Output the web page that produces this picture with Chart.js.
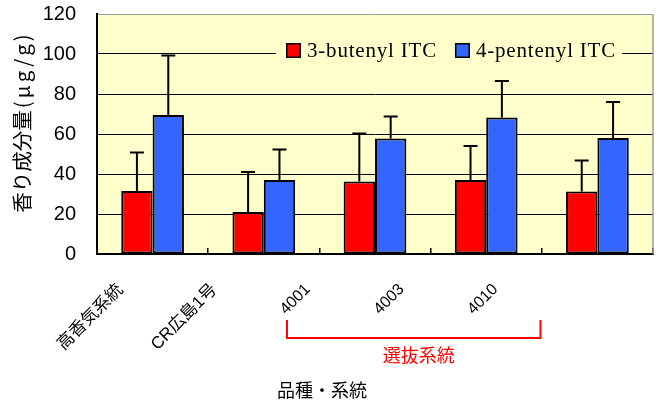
<!DOCTYPE html>
<html>
<head>
<meta charset="utf-8">
<script src="https://cdn.jsdelivr.net/npm/chart.js@4/dist/chart.umd.min.js"></script>
<style>
  html, body { margin: 0; padding: 0; background: #fff; }
  #wrap { width: 661px; height: 401px; }
</style>
</head>
<body>
<div id="wrap"><canvas id="c" width="661" height="401"></canvas></div>
<script>
// Cultivars / lines and measured aroma content (mean and SD, µg/g)
const categories = ['高香気系統', 'CR広島1号', '4001', '4003', '4010'];
const seriesNames = ['3-butenyl ITC', '4-pentenyl ITC'];
const butenylMean = [31.5, 21.0, 36.2, 37.0, 31.2];
const butenylSD   = [19.2, 20.0, 24.0, 17.0, 15.5];
const pentenylMean = [69.5, 37.0, 57.8, 68.3, 58.0];
const pentenylSD   = [29.7, 15.3, 10.9, 18.2, 18.0];
const yTicks = [0, 20, 40, 60, 80, 100, 120];

const SANS = '"Liberation Sans", "Noto Sans CJK JP", sans-serif';
const CJK = '"Noto Sans CJK JP", sans-serif';
const SERIF = '"Liberation Serif", serif';
const PLOT_BG = '#FFFFCC';

// Plot background and right frame line
const plotFrame = {
  id: 'plotFrame',
  beforeDraw(chart) {
    const { ctx, chartArea: a } = chart;
    ctx.save();
    ctx.fillStyle = '#fff';
    ctx.fillRect(0, 0, chart.width, chart.height);
    ctx.fillStyle = PLOT_BG;
    ctx.fillRect(a.left, a.top, a.right - a.left, a.bottom - a.top);
    ctx.restore();
  },
  beforeDatasetsDraw(chart) {
    const { ctx, chartArea: a } = chart;
    ctx.save();
    ctx.strokeStyle = '#9a9a9a';
    ctx.lineWidth = 1.5;
    ctx.beginPath();
    ctx.moveTo(a.right, a.top);
    ctx.lineTo(a.right, a.bottom);
    ctx.stroke();
    ctx.restore();
  }
};

// Upper error bars (mean + SD)
const errorBars = {
  id: 'errorBars',
  afterDatasetsDraw(chart) {
    const { ctx } = chart;
    const yScale = chart.scales.y;
    ctx.save();
    ctx.strokeStyle = '#000';
    ctx.lineWidth = 2;
    chart.data.datasets.forEach((ds, di) => {
      const meta = chart.getDatasetMeta(di);
      meta.data.forEach((bar, i) => {
        const top = yScale.getPixelForValue(ds.data[i] + ds.sd[i]);
        ctx.beginPath();
        ctx.moveTo(bar.x, bar.y);
        ctx.lineTo(bar.x, top);
        ctx.moveTo(bar.x - 7, top);
        ctx.lineTo(bar.x + 7, top);
        ctx.stroke();
      });
    });
    ctx.restore();
  }
};

// Legend drawn inside the plot area, over the 100 grid line
const innerLegend = {
  id: 'innerLegend',
  afterDatasetsDraw(chart) {
    const { ctx, chartArea: a } = chart;
    const dsets = chart.data.datasets;
    ctx.save();
    ctx.font = '21px ' + SERIF;
    ctx.letterSpacing = '0.8px';
    const box = 15, gapText = 6, gapItem = 18;
    let x = a.left + 189;
    const yBox = a.top + 29;
    const widths = dsets.map(d => ctx.measureText(d.label).width);
    let total = 0;
    widths.forEach((w, i) => { total += box + gapText + w + (i < widths.length - 1 ? gapItem : 0); });
    ctx.fillStyle = PLOT_BG;
    ctx.fillRect(x - 10, yBox - 4, total + 16, box + 10);
    dsets.forEach((d, i) => {
      ctx.fillStyle = d.backgroundColor;
      ctx.fillRect(x, yBox, box, box);
      ctx.strokeStyle = '#000';
      ctx.lineWidth = 1.5;
      ctx.strokeRect(x + 0.75, yBox + 0.75, box - 1.5, box - 1.5);
      ctx.fillStyle = '#000';
      ctx.textBaseline = 'alphabetic';
      ctx.textAlign = 'left';
      ctx.fillText(d.label, x + box + gapText, yBox + 14);
      x += box + gapText + widths[i] + gapItem;
    });
    ctx.restore();
  }
};

// Axis titles and the bracket grouping the selected lines
const annotations = {
  id: 'annotations',
  afterDraw(chart) {
    const { ctx, chartArea: a } = chart;
    const xl = chart.scales.xl;
    ctx.save();

    // y-axis title (vertical)
    ctx.translate(22, 123);
    ctx.rotate(-Math.PI / 2);
    ctx.fillStyle = '#000';
    ctx.textBaseline = 'middle';
    ctx.textAlign = 'left';
    ctx.font = '20.5px ' + CJK;
    const p1 = '香り成分量', p2 = '(μg/g)';
    const w1 = ctx.measureText(p1).width;
    ctx.letterSpacing = '3px';
    const w2 = ctx.measureText(p2).width;
    ctx.letterSpacing = '0px';
    const start = -(w1 + w2) / 2;
    ctx.fillText(p1, start, 0);
    ctx.letterSpacing = '3px';
    ctx.fillText(p2, start + w1 + 2, 0);
    ctx.restore();

    // bracket for 選抜系統 (4001–4010)
    ctx.save();
    const bl = xl.getPixelForValue(2) - 21;
    const br = xl.getPixelForValue(4) + 45;
    const bTop = a.bottom + 66, bBot = a.bottom + 84;
    ctx.strokeStyle = '#FF0000';
    ctx.lineWidth = 2;
    ctx.beginPath();
    ctx.moveTo(bl, bTop);
    ctx.lineTo(bl, bBot);
    ctx.lineTo(br, bBot);
    ctx.lineTo(br, bTop);
    ctx.stroke();
    ctx.fillStyle = '#FF0000';
    ctx.font = '18px ' + CJK;
    ctx.textAlign = 'center';
    ctx.textBaseline = 'middle';
    ctx.fillText('選抜系統', (bl + br) / 2 + 5, a.bottom + 101);

    // x-axis title
    ctx.fillStyle = '#000';
    ctx.fillText('品種・系統', a.left + 225, a.bottom + 136);
    ctx.restore();
  }
};

new Chart(document.getElementById('c'), {
  type: 'bar',
  data: {
    labels: categories,
    datasets: [
      { label: seriesNames[0], data: butenylMean, sd: butenylSD,
        backgroundColor: '#FF0000', borderColor: '#000', borderWidth: 2, borderSkipped: false },
      { label: seriesNames[1], data: pentenylMean, sd: pentenylSD,
        backgroundColor: '#3366FF', borderColor: '#000', borderWidth: 2, borderSkipped: false }
    ]
  },
  options: {
    responsive: false,
    animation: false,
    devicePixelRatio: 1,
    categoryPercentage: 0.564,
    barPercentage: 1.0,
    layout: { padding: { left: 0, right: 8, top: 14, bottom: 0 } },
    plugins: {
      legend: { display: false },
      tooltip: { enabled: false },
      title: { display: false }
    },
    scales: {
      // category axis carrying the bars; short upward ticks between groups
      x: {
        type: 'category',
        position: 'bottom',
        offset: true,
        weight: 0,
        grid: { display: true, offset: true, drawOnChartArea: false, drawTicks: true,
                tickLength: -6, color: '#000', lineWidth: 1.5 },
        border: { display: true, color: '#000', width: 2 },
        ticks: { display: false }
      },
      // label axis for the slanted category names
      xl: {
        type: 'linear',
        axis: 'x',
        position: 'bottom',
        weight: 1,
        offset: false,
        min: -0.25,
        max: 5.68,
        grid: { display: false, drawTicks: true, tickLength: 32 },
        border: { display: false },
        afterBuildTicks: (s) => { s.ticks = categories.map((_, i) => ({ value: i })); },
        afterFit: (s) => { s.height = 147; },
        ticks: {
          autoSkip: false,
          maxRotation: 45,
          minRotation: 45,
          padding: 0,
          color: '#000',
          font: (c) => ({
            family: SANS,
            size: /[^\x00-\x7F]/.test(categories[c.index] || '') ? 17 : 16
          }),
          callback: (v) => (categories[v] !== undefined ? categories[v] : '')
        }
      },
      y: {
        min: 0,
        max: 120,
        position: 'left',
        afterFit: (s) => { s.width = 97; },
        afterBuildTicks: (s) => { s.ticks = yTicks.map(v => ({ value: v })); },
        grid: {
          drawTicks: true,
          tickLength: 21,
          tickColor: 'rgba(0,0,0,0)',
          color: (c) => (c.tick && c.tick.value === 120 ? '#9a9a9a' : '#000'),
          lineWidth: 1
        },
        border: { display: true, color: '#000', width: 2 },
        ticks: { padding: 0, color: '#000', font: { family: SANS, size: 20 } }
      }
    }
  },
  plugins: [plotFrame, errorBars, innerLegend, annotations]
});
</script>
</body>
</html>
